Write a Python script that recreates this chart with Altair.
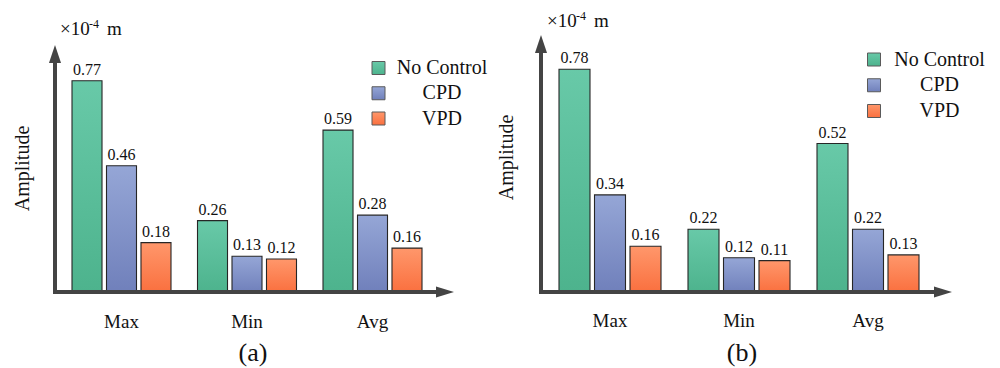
import altair as alt
import pandas as pd

# ---------------- data ----------------
categories = ["Max", "Min", "Avg"]
series = ["No Control", "CPD", "VPD"]
a_no_control = [0.77, 0.26, 0.59]
a_cpd = [0.46, 0.13, 0.28]
a_vpd = [0.18, 0.12, 0.16]
b_no_control = [0.78, 0.22, 0.52]
b_cpd = [0.34, 0.12, 0.22]
b_vpd = [0.16, 0.11, 0.13]
panel_labels = ["(a)", "(b)"]
y_title = "Amplitude"
unit_parts = ["\u00d710", "-4", "m"]

# ---------------- style ----------------
FONT = "Liberation Serif"
AX = "#444444"
tops = ["#68c9a8", "#95a6d6", "#ff976b"]
bottoms = ["#4db38d", "#7080bb", "#fa703f"]
ARROW_UP = "M 0 0 L -0.67 2 L 0.67 2 Z"
ARROW_RIGHT = "M 0 0 L -2 -0.62 L -2 0.62 Z"


def grad(i):
    return {"gradient": "linear", "x1": 0, "y1": 0, "x2": 0, "y2": 1,
            "stops": [{"offset": 0, "color": tops[i]}, {"offset": 1, "color": bottoms[i]}]}


one = pd.DataFrame({"k": [0]})


def panel(vals, xr, pin, sub_pin, yr, ax_x, tip_x, sq_x, leg_y0, leg_dy, leg_tx,
          amp_xy, unit_xy, cat_y, plabel, plabel_x):
    rows = []
    for s, v in zip(series, vals):
        for c, val in zip(categories, v):
            rows.append({"category": c, "series": s, "value": val})
    df = pd.DataFrame(rows)

    xs = alt.X("category:N", scale=alt.Scale(domain=categories, range=xr,
                                             paddingInner=pin, paddingOuter=0), axis=None)
    xo = alt.XOffset("series:N", scale=alt.Scale(domain=series, paddingInner=sub_pin,
                                                 paddingOuter=0))
    ys = alt.Y("value:Q", scale=alt.Scale(domain=[0, 0.9], range=yr, nice=False, zero=False),
               axis=None)

    layers = []
    for i, s in enumerate(series):
        layers.append(
            alt.Chart(df).transform_filter(alt.datum.series == s)
            .mark_bar(fill=grad(i), stroke="#262626", strokeWidth=1.1)
            .encode(x=xs, xOffset=xo, y=ys, y2=alt.datum(0))
        )
    layers.append(
        alt.Chart(df).mark_text(font=FONT, fontSize=16, dy=-6, baseline="alphabetic",
                                color="#111111")
        .encode(x=xs, xOffset=xo, y=ys, text=alt.Text("value:Q", format=".2f"))
    )
    layers.append(
        alt.Chart(pd.DataFrame({"category": categories}))
        .mark_text(font=FONT, fontSize=19, baseline="alphabetic", color="#111111")
        .encode(x=alt.X("category:N"), y=alt.value(cat_y), text="category:N")
    )
    # axes with arrows
    base_y = yr[0]
    layers.append(
        alt.Chart(one).mark_rule(color=AX, strokeWidth=4)
        .encode(x=alt.value(ax_x), y=alt.value(base_y + 2), y2=alt.value(yr[1] + 14))
    )
    layers.append(
        alt.Chart(one).mark_rule(color=AX, strokeWidth=4)
        .encode(x=alt.value(ax_x - 2), x2=alt.value(tip_x - 14), y=alt.value(base_y))
    )
    layers.append(
        alt.Chart(one).mark_point(shape=ARROW_UP, filled=True, size=324, color=AX, opacity=1,
                                  strokeWidth=0)
        .encode(x=alt.value(ax_x), y=alt.value(yr[1]))
    )
    layers.append(
        alt.Chart(one).mark_point(shape=ARROW_RIGHT, filled=True, size=324, color=AX, opacity=1,
                                  strokeWidth=0)
        .encode(x=alt.value(tip_x), y=alt.value(base_y))
    )
    # legend
    for i, s in enumerate(series):
        yy = leg_y0 + i * leg_dy
        layers.append(
            alt.Chart(one).mark_point(shape="square", filled=True, size=169, fill=grad(i),
                                      stroke="#5a5a5a", strokeWidth=1, opacity=1)
            .encode(x=alt.value(sq_x), y=alt.value(yy))
        )
        layers.append(
            alt.Chart(pd.DataFrame({"series": [s]}))
            .mark_text(font=FONT, fontSize=20, align="center", baseline="middle", color="#111111")
            .encode(x=alt.value(leg_tx), y=alt.value(yy), text="series:N")
        )
    # titles
    layers.append(
        alt.Chart(pd.DataFrame({"t": [y_title]}))
        .mark_text(font=FONT, fontSize=20, angle=270, align="center", baseline="middle",
                   color="#111111")
        .encode(x=alt.value(amp_xy[0]), y=alt.value(amp_xy[1]), text="t:N")
    )
    ux, uy = unit_xy
    layers.append(
        alt.Chart(pd.DataFrame({"t": [unit_parts[0]]}))
        .mark_text(font=FONT, fontSize=19, align="left", baseline="alphabetic", color="#111111")
        .encode(x=alt.value(ux), y=alt.value(uy), text="t:N")
    )
    layers.append(
        alt.Chart(pd.DataFrame({"t": [unit_parts[1]]}))
        .mark_text(font=FONT, fontSize=12, align="left", baseline="alphabetic", color="#111111")
        .encode(x=alt.value(ux + 29), y=alt.value(uy - 7), text="t:N")
    )
    layers.append(
        alt.Chart(pd.DataFrame({"t": [unit_parts[2]]}))
        .mark_text(font=FONT, fontSize=19, align="left", baseline="alphabetic", color="#111111")
        .encode(x=alt.value(ux + 47), y=alt.value(uy), text="t:N")
    )
    layers.append(
        alt.Chart(pd.DataFrame({"t": [plabel]}))
        .mark_text(font=FONT, fontSize=26, align="center", baseline="alphabetic", color="#111111")
        .encode(x=alt.value(plabel_x), y=alt.value(353), text="t:N")
    )
    return alt.layer(*layers)


pa = panel([a_no_control, a_cpd, a_vpd], xr=[64, 414], pin=0.2112, sub_pin=0.13,
           yr=[284, 37], ax_x=47, tip_x=446, sq_x=370.5, leg_y0=60, leg_dy=25.25,
           leg_tx=434, amp_xy=(15, 160.5), unit_xy=(52, 27), cat_y=320,
           plabel=panel_labels[0], plabel_x=245)
pb = panel([b_no_control, b_cpd, b_vpd], xr=[551, 911], pin=0.2093, sub_pin=0.127,
           yr=[284, 27], ax_x=533, tip_x=944, sq_x=866, leg_y0=51.5, leg_dy=25.75,
           leg_tx=931.5, amp_xy=(499, 149.5), unit_xy=(539, 19), cat_y=319,
           plabel=panel_labels[1], plabel_x=734)

chart = (
    alt.layer(pa, pb)
    .resolve_scale(x="independent", y="independent", xOffset="independent")
    .properties(width=984, height=360, padding=0,
                autosize=alt.AutoSizeParams(type="none"))
    .configure_view(stroke="transparent")
)

chart.save("out.html", embed_options={"renderer": "svg", "actions": False})
